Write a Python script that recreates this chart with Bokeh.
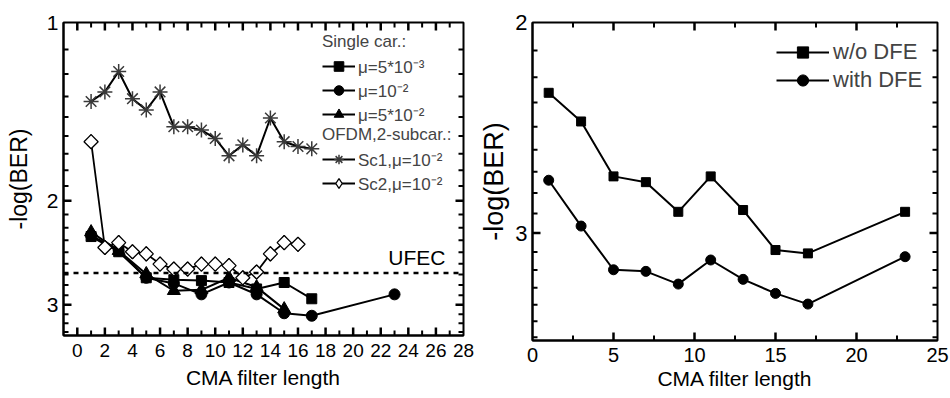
import numpy as np
from bokeh.plotting import figure
from bokeh.models import (Range1d, FixedTicker, Span, Label, Legend, LegendItem,
                          BasicTickFormatter)
from bokeh.layouts import row
from bokeh.embed import file_html
from bokeh.resources import INLINE

FONT = "Liberation Sans"

# ---------------- data: left panel ----------------
x_sq_left = [1, 3, 5, 7, 9, 11, 13, 15, 17]
y_mu5e3 = [2.30, 2.44, 2.70, 2.72, 2.73, 2.75, 2.82, 2.75, 2.93]
x_ci_left = [1, 3, 5, 7, 9, 11, 13, 15, 17, 23]
y_mu1e2 = [2.29, 2.43, 2.70, 2.76, 2.88, 2.75, 2.88, 3.10, 3.13, 2.88]
x_tr_left = [1, 3, 5, 7, 9, 11, 13, 15]
y_mu5e2 = [2.26, 2.43, 2.66, 2.84, 2.83, 2.70, 2.80, 3.05]
x_sc1 = list(range(1, 18))
y_sc1 = [1.36, 1.31, 1.21, 1.345, 1.405, 1.31, 1.50, 1.50, 1.52, 1.57, 1.68,
         1.61, 1.68, 1.45, 1.59, 1.62, 1.635]
x_sc2 = list(range(1, 17))
y_sc2 = [1.59, 2.40, 2.355, 2.44, 2.46, 2.56, 2.61, 2.61, 2.56, 2.56, 2.575,
         2.70, 2.64, 2.46, 2.355, 2.37]
ufec_level = 2.65

left_xrange = (-1, 28)
left_yrange = (3.38, 1)
left_xticks = list(range(0, 29, 2))
left_xminor = list(range(-1, 28, 2))
left_yticks = [1, 2, 3]
left_yminor = ([1 + k / 9 for k in range(1, 9)] + [2 + k / 9 for k in range(1, 9)]
               + [3 + k / 9 for k in range(1, 4)])

legend_left_a = ["μ=5*10⁻³", "μ=10⁻²", "μ=5*10⁻²"]
legend_left_b = ["Sc1,μ=10⁻²", "Sc2,μ=10⁻²"]

# ---------------- data: right panel ----------------
x_right = [1, 3, 5, 7, 9, 11, 13, 15, 17, 23]
y_wo_dfe = [2.29, 2.42, 2.69, 2.72, 2.88, 2.69, 2.87, 3.10, 3.12, 2.88]
y_with_dfe = [2.71, 2.96, 3.22, 3.23, 3.31, 3.16, 3.28, 3.37, 3.44, 3.14]

right_xrange = (0, 25)
right_yrange = (3.69, 2)
right_xticks = [0, 5, 10, 15, 20, 25]
right_xminor = [2.5, 7.5, 12.5, 17.5, 22.5]
right_yticks = [2, 3]
right_yminor = [2 + k / 9 for k in range(1, 9)] + [3 + k / 9 for k in range(1, 7)]


def style_axis(ax, font_size, standoff, label, label_size, label_standoff):
    ax.axis_line_width = 2
    ax.axis_line_color = "black"
    ax.major_tick_in = 0
    ax.major_tick_out = 0
    ax.minor_tick_in = 0
    ax.minor_tick_out = 0
    ax.major_label_text_font = FONT
    ax.major_label_text_font_size = font_size
    ax.major_label_text_color = "black"
    ax.major_label_standoff = standoff
    ax.axis_label = label
    ax.axis_label_text_font = FONT
    ax.axis_label_text_font_size = label_size
    ax.axis_label_text_font_style = "normal"
    ax.axis_label_text_color = "black"
    ax.axis_label_standoff = label_standoff


def base_fig(fw, fh, xr, yr, mb):
    p = figure(frame_width=fw, frame_height=fh,
               x_range=Range1d(*xr), y_range=Range1d(*yr),
               y_axis_type="log", output_backend="svg", toolbar_location=None,
               min_border_left=mb[0], min_border_right=mb[1],
               min_border_top=mb[2], min_border_bottom=mb[3])
    p.xgrid.visible = False
    p.ygrid.visible = False
    p.outline_line_color = "black"
    p.outline_line_width = 2
    p.background_fill_color = "white"
    p.border_fill_color = "white"
    return p


def inward_ticks(p, fw, fh, xr, yr, xmaj, xmin, ymaj, ymin, lmaj=8, lmin=5):
    """Tick marks as short segments along the inside of all four frame edges."""
    xa, xb = xr
    ybot, ytop = yr
    dx = (xb - xa) / fw
    fy = 10 ** (np.log10(ybot / ytop) / fh)
    for ticks, L, w in ((xmaj, lmaj, 2.5), (xmin, lmin, 2.0)):
        xs = [float(t) for t in ticks if xa < t < xb]
        n = len(xs)
        p.segment(x0=xs, x1=xs, y0=[ybot] * n, y1=[ybot / fy ** L] * n,
                  line_color="black", line_width=w)
        p.segment(x0=xs, x1=xs, y0=[ytop] * n, y1=[ytop * fy ** L] * n,
                  line_color="black", line_width=w)
    for ticks, L, w in ((ymaj, lmaj, 2.5), (ymin, lmin, 2.0)):
        ys = [float(t) for t in ticks if ytop < t < ybot]
        n = len(ys)
        p.segment(x0=[xa] * n, x1=[xa + L * dx] * n, y0=ys, y1=ys,
                  line_color="black", line_width=w)
        p.segment(x0=[xb] * n, x1=[xb - L * dx] * n, y0=ys, y1=ys,
                  line_color="black", line_width=w)


def make_legend(items, title, loc, fsize, gw, gh, standoff):
    lg = Legend(items=items, location=loc, padding=0, margin=0, spacing=0,
                glyph_width=gw, glyph_height=gh, label_height=gh,
                label_standoff=standoff, label_text_font=FONT,
                label_text_font_size=fsize, background_fill_alpha=0,
                border_line_alpha=0)
    if title:
        lg.title = title
        lg.title_text_font = FONT
        lg.title_text_font_size = fsize
        lg.title_text_font_style = "normal"
        lg.title_standoff = 2
    return lg


# ================= LEFT FIGURE =================
FW1, FH1 = 400, 313
p1 = base_fig(FW1, FH1, left_xrange, left_yrange, (63, 13, 20, 65))
p1.xaxis.ticker = FixedTicker(ticks=left_xticks, minor_ticks=left_xminor)
p1.yaxis.ticker = FixedTicker(ticks=left_yticks, minor_ticks=left_yminor)
p1.yaxis.formatter = BasicTickFormatter()
for ax in p1.xaxis:
    style_axis(ax, "19px", 8, "CMA filter length", "21px", 6)
for ax in p1.yaxis:
    style_axis(ax, "21px", 5, "-log(BER)", "23px", 12)
inward_ticks(p1, FW1, FH1, left_xrange, left_yrange, left_xticks, left_xminor,
             left_yticks, left_yminor)

p1.add_layout(Span(location=ufec_level, dimension="width", line_color="black",
                   line_width=2.5, line_dash="5 5"))

l1 = p1.line(x_sq_left, y_mu5e3, line_color="black", line_width=2)
s1 = p1.scatter(x_sq_left, y_mu5e3, marker="square", size=10, color="black")
l2 = p1.line(x_ci_left, y_mu1e2, line_color="black", line_width=2)
s2 = p1.scatter(x_ci_left, y_mu1e2, marker="circle", size=11, color="black")
l3 = p1.line(x_tr_left, y_mu5e2, line_color="black", line_width=2)
s3 = p1.scatter(x_tr_left, y_mu5e2, marker="triangle", size=13, color="black")
l4 = p1.line(x_sc1, y_sc1, line_color="black", line_width=2)
s4 = p1.scatter(x_sc1, y_sc1, marker="asterisk", size=15, line_color="#3a3a3a",
                line_width=1.5)
l5 = p1.line(x_sc2, y_sc2, line_color="black", line_width=1.8)
# diamond glyph used by the legend; it lies fully under the rotated squares
s5_leg = p1.scatter(x_sc2, y_sc2, marker="diamond", size=14,
                    fill_color="white", line_color="black", line_width=1.3)
s5 = p1.scatter(x_sc2, y_sc2, marker="square", angle=np.pi / 4, size=10,
                fill_color="white", line_color="black", line_width=1.3)

legA = make_legend([LegendItem(label=legend_left_a[0], renderers=[l1, s1]),
                    LegendItem(label=legend_left_a[1], renderers=[l2, s2]),
                    LegendItem(label=legend_left_a[2], renderers=[l3, s3])],
                   "Single car.:", (259, 209), "17px", 33, 24, 3)
legB = make_legend([LegendItem(label=legend_left_b[0], renderers=[l4, s4]),
                    LegendItem(label=legend_left_b[1], renderers=[l5, s5_leg])],
                   "OFDM,2-subcar.:", (259, 140), "17px", 33, 24, 3)
p1.add_layout(legA)
p1.add_layout(legB)

p1.add_layout(Label(x=382, y=ufec_level, x_units="screen", text="UFEC",
                    text_align="right", text_baseline="bottom", y_offset=4,
                    text_font=FONT, text_font_size="21px", text_color="black"))

# ================= RIGHT FIGURE =================
FW2, FH2 = 405, 318
p2 = base_fig(FW2, FH2, right_xrange, right_yrange, (55, 14, 22, 58))
p2.xaxis.ticker = FixedTicker(ticks=right_xticks, minor_ticks=right_xminor)
p2.yaxis.ticker = FixedTicker(ticks=right_yticks, minor_ticks=right_yminor)
p2.yaxis.formatter = BasicTickFormatter()
for ax in p2.xaxis:
    style_axis(ax, "20px", 7, "CMA filter length", "21px", 2)
for ax in p2.yaxis:
    style_axis(ax, "22px", 5, "-log(BER)", "27px", 3)
inward_ticks(p2, FW2, FH2, right_xrange, right_yrange, right_xticks, right_xminor,
             right_yticks, right_yminor)

r1l = p2.line(x_right, y_wo_dfe, line_color="black", line_width=2)
r1s = p2.scatter(x_right, y_wo_dfe, marker="square", size=9, color="black")
r2l = p2.line(x_right, y_with_dfe, line_color="black", line_width=2)
r2s = p2.scatter(x_right, y_with_dfe, marker="circle", size=10, color="black")

legR = make_legend([LegendItem(label="w/o DFE", renderers=[r1l, r1s]),
                    LegendItem(label="with DFE", renderers=[r2l, r2s])],
                   None, (244, 246), "22px", 53, 28, 4)
p2.add_layout(legR)

layout = row(p1, p2)
open("out.html", "w").write(file_html(layout, INLINE))
